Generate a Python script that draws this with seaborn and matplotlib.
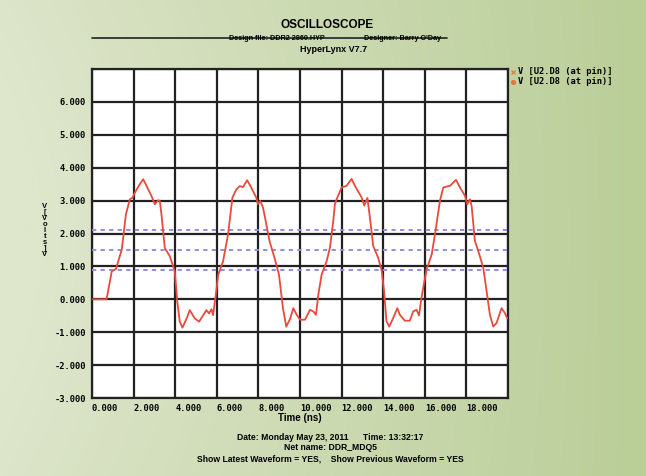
import numpy as np
import pandas as pd
import matplotlib.pyplot as plt
import seaborn as sns

# waveform (ns, V)
time_ns = [0, 0.7, 0.95, 1.15, 1.43, 1.63, 1.82, 1.95, 2.06, 2.30, 2.46, 2.62, 2.86, 3.02, 3.18, 3.26,
           3.34, 3.50, 3.74, 3.98, 4.10, 4.22, 4.35, 4.55, 4.70, 4.94, 5.15, 5.34, 5.50, 5.63, 5.74, 5.82,
           5.95, 6.07, 6.30, 6.54, 6.75, 6.94, 7.10, 7.26, 7.46, 7.66, 7.90, 7.98, 8.09, 8.22, 8.30, 8.54,
           8.78, 8.99, 9.18, 9.34, 9.52, 9.68, 9.84, 10.0, 10.24, 10.48, 10.64, 10.77, 10.88, 11.04, 11.28,
           11.44, 11.60, 11.68, 11.80, 12.0, 12.24, 12.48, 12.64, 12.96, 13.09, 13.24, 13.36, 13.52, 13.76,
           13.93, 14.04, 14.16, 14.29, 14.48, 14.68, 14.80, 15.04, 15.28, 15.44, 15.60, 15.72, 15.84, 15.95,
           16.09, 16.33, 16.49, 16.73, 16.89, 17.21, 17.5, 17.69, 17.93, 18.04, 18.17, 18.25, 18.41, 18.57,
           18.81, 18.97, 19.13, 19.29, 19.45, 19.69, 19.85, 19.97]
volts = [0, 0, 0.85, 0.92, 1.51, 2.58, 3.04, 3.09, 3.24, 3.50, 3.65, 3.45, 3.14, 2.89, 3.01, 2.99,
         2.58, 1.56, 1.31, 0.85, -0.07, -0.68, -0.86, -0.58, -0.33, -0.58, -0.68, -0.49, -0.33, -0.43, -0.30, -0.48,
         0.13, 0.75, 1.15, 1.97, 3.09, 3.34, 3.44, 3.41, 3.62, 3.39, 3.09, 2.89, 2.99, 2.79, 2.54, 1.76,
         1.25, 0.75, -0.27, -0.83, -0.6, -0.27, -0.47, -0.62, -0.62, -0.32, -0.37, -0.47, 0.14, 0.75, 1.16,
         1.57, 2.39, 2.9, 3.1, 3.40, 3.45, 3.66, 3.45, 3.1, 2.85, 3.08, 2.49, 1.62, 1.26,
         0.86, 0.25, -0.67, -0.83, -0.57, -0.27, -0.47, -0.65, -0.65, -0.37, -0.32, -0.49, 0.04, 0.45,
         0.91, 1.36, 1.98, 3.0, 3.40, 3.45, 3.63, 3.40, 3.15, 2.89, 3.04, 2.84, 1.77, 1.47,
         0.96, 0.25, -0.47, -0.83, -0.72, -0.27, -0.42, -0.58]
thresholds = [2.1, 1.5, 0.9]

x_ticks = [0, 2, 4, 6, 8, 10, 12, 14, 16, 18]
x_labels = ["0.000", "2.000", "4.000", "6.000", "8.000", "10.000", "12.000", "14.000", "16.000", "18.000"]
y_ticks = [-3, -2, -1, 0, 1, 2, 3, 4, 5, 6]
y_labels = ["-3.000", "-2.000", "-1.000", "0.000", "1.000", "2.000", "3.000", "4.000", "5.000", "6.000"]

legend_labels = ["V [U2.D8 (at pin)]", "V [U2.D8 (at pin)]"]

sns.set_style("white")
plt.rcParams['font.family'] = ['Liberation Sans', 'DejaVu Sans']
plt.rcParams['font.weight'] = 'bold'
plt.rcParams['text.color'] = 'black'
plt.rcParams['xtick.color'] = 'black'
plt.rcParams['ytick.color'] = 'black'
plt.rcParams['axes.labelcolor'] = 'black'
mono = ['DejaVu Sans Mono']

fig = plt.figure(figsize=(6.46, 4.76), dpi=100)

# greenish gradient backdrop
bg = fig.add_axes([0, 0, 1, 1], zorder=-5)
gx = np.linspace(0, 1, 300)
gy = np.linspace(0, 1, 200)
GX, GY = np.meshgrid(gx, gy)
left_c = np.array([222, 230, 204]) / 255
right_c = np.array([186, 206, 152]) / 255
mix = np.clip(GX * 0.95 - 0.12 * np.sin(np.pi * GY) * (1 - GX) + 0.05, 0, 1)[..., None]
img = left_c * (1 - mix) + right_c * mix
bg.imshow(img, aspect='auto', extent=[0, 1, 0, 1], origin='upper')
bg.axis('off')

ax = fig.add_axes([92 / 646, 1 - 398 / 476, 416 / 646, 329 / 476])
ax.set_facecolor('white')

df = pd.DataFrame({"t": time_ns, "v": volts})
sns.lineplot(data=df, x="t", y="v", ax=ax, color="#e84a3c", linewidth=1.3,
             sort=False, estimator=None, zorder=5)
for th in thresholds:
    ax.axhline(th, color="#8f8fe0", linewidth=1.4, linestyle=(0, (2.2, 2.2)), zorder=4)

ax.set_xlim(0, 20)
ax.set_ylim(-3, 7)
ax.set_xticks(x_ticks)
ax.set_xticklabels(x_labels, ha='left', fontsize=6.3, fontweight='bold', family=mono)
ax.set_yticks(y_ticks)
ax.set_yticklabels(y_labels, fontsize=6.3, fontweight='bold', family=mono)
ax.set_xticks(np.arange(0, 21, 2), minor=True)
ax.set_yticks(np.arange(-3, 8, 1), minor=True)
ax.grid(which='minor', color='#222222', linewidth=1.6)
ax.grid(which='major', color='#222222', linewidth=1.6)
ax.tick_params(axis='both', which='major', direction='out', length=4, width=2.4, color='black', pad=0.5)
ax.tick_params(axis='both', which='minor', length=0)
for s in ax.spines.values():
    s.set_color('#222222')
    s.set_linewidth(1.6)
ax.set_xlabel("Time (ns)", fontsize=7, fontweight='bold', labelpad=0)
ax.set_ylabel("")

# stacked vertical y label
fig.text(45 / 646, 1 - 230 / 476, "\n".join("V[Volts]V"), fontsize=5.5, fontweight='bold',
         ha='center', va='center', linespacing=0.8)

# header
fig.text(327 / 646, 1 - 25 / 476, "OSCILLOSCOPE", fontsize=8.5, fontweight='bold', ha='center', va='center')
fig.add_artist(plt.Line2D([92 / 646, 447 / 646], [1 - 38 / 476, 1 - 38 / 476], color='#222222', linewidth=1.2))
fig.text(277 / 646, 1 - 38.5 / 476, "Design file: DDR2 2860.HYP", fontsize=5.2, fontweight='bold', ha='center', va='center')
fig.text(402 / 646, 1 - 38.5 / 476, "Designer: Barry O'Day", fontsize=5.2, fontweight='bold', ha='center', va='center')
fig.text(334 / 646, 1 - 49 / 476, "HyperLynx V7.7", fontsize=6.5, fontweight='bold', ha='center', va='center')

# legend entries
mk = ['x', 'o']
for i, lab in enumerate(legend_labels):
    yy = 1 - (72 + 10 * i) / 476
    fig.add_artist(plt.Line2D([513 / 646], [yy], marker=mk[i], color='#e8763b', markersize=2.8,
                              markeredgewidth=0.9, linestyle='none'))
    fig.text(518 / 646, yy, lab, fontsize=6.3, fontweight='bold', ha='left', va='center', family=mono)

# footer
fig.text(330 / 646, 1 - 437 / 476, "Date: Monday May 23, 2011      Time: 13:32:17", fontsize=6.2,
         fontweight='bold', ha='center', va='center')
fig.text(330 / 646, 1 - 448 / 476, "Net name: DDR_MDQ5", fontsize=6.2, fontweight='bold', ha='center', va='center')
fig.text(330 / 646, 1 - 459 / 476, "Show Latest Waveform = YES,    Show Previous Waveform = YES", fontsize=6.2,
         fontweight='bold', ha='center', va='center')

fig.savefig("out.png", dpi=100)
